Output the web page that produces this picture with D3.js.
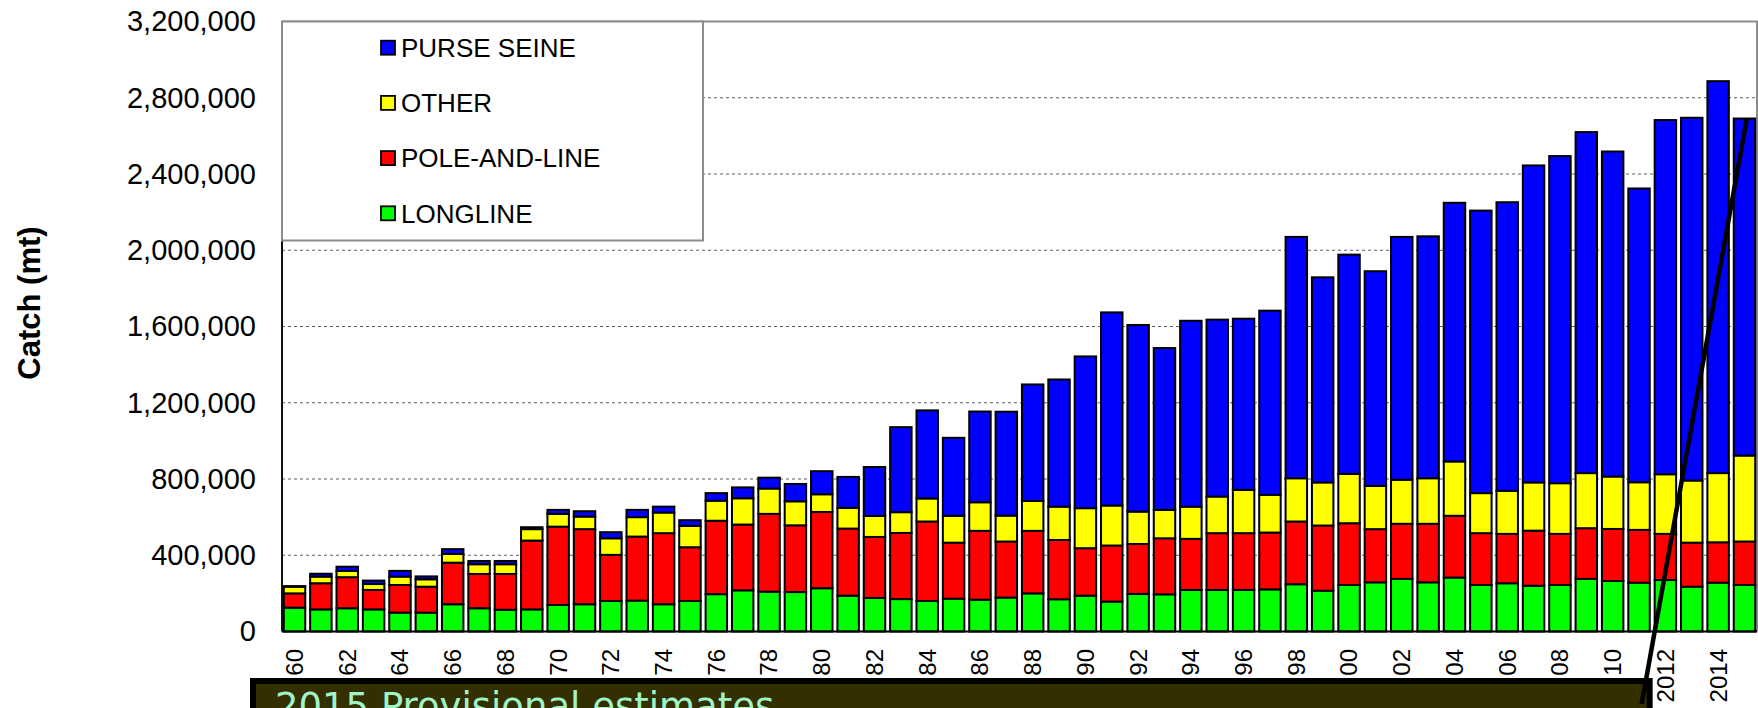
<!DOCTYPE html>
<html>
<head>
<meta charset="utf-8">
<script src="https://cdn.jsdelivr.net/npm/d3@7"></script>
<style>
  html, body { margin: 0; padding: 0; background: #ffffff; }
  svg { display: block; }
</style>
</head>
<body>
<svg id="chart" width="1758" height="708"></svg>
<script>
// ---------------- DATA ----------------
const years = ["1960","1961","1962","1963","1964","1965","1966","1967","1968","1969",
  "1970","1971","1972","1973","1974","1975","1976","1977","1978","1979",
  "1980","1981","1982","1983","1984","1985","1986","1987","1988","1989",
  "1990","1991","1992","1993","1994","1995","1996","1997","1998","1999",
  "2000","2001","2002","2003","2004","2005","2006","2007","2008","2009",
  "2010","2011","2012","2013","2014","2015"];

const longline = [125000,116000,122000,116000,99000,99000,143000,122000,114000,116000,
  139000,143000,160000,162000,143000,160000,196000,216000,209000,207000,
  227000,188000,176000,170000,160000,172000,167000,178000,200000,169000,
  188000,157000,197000,195000,218000,218000,218000,221000,248000,214000,
  244000,258000,276000,258000,283000,244000,253000,240000,244000,276000,
  265000,256000,270000,235000,256000,244000];

const poleAndLine = [75000,137000,163000,102000,145000,136000,218000,180000,188000,361000,
  411000,394000,242000,336000,373000,282000,385000,345000,408000,350000,
  400000,352000,320000,347000,417000,294000,361000,294000,328000,311000,
  249000,294000,262000,294000,268000,298000,298000,298000,329000,342000,
  324000,279000,289000,307000,324000,272000,259000,289000,268000,266000,
  273000,277000,242000,231000,212000,228000];

const other = [35000,35000,33000,31000,44000,39000,46000,51000,51000,60000,
  67000,66000,87000,102000,108000,112000,105000,138000,133000,126000,
  93000,109000,110000,109000,121000,141000,150000,136000,157000,175000,
  210000,210000,170000,149000,169000,192000,227000,198000,227000,226000,
  259000,227000,231000,239000,285000,210000,226000,253000,266000,289000,
  275000,250000,313000,326000,363000,451000];

const purseSeine = [3000,15000,22000,18000,30000,15000,25000,17000,17000,10000,
  21000,28000,32000,38000,31000,30000,40000,57000,57000,91000,
  121000,162000,257000,446000,462000,409000,476000,545000,611000,667000,
  796000,1013000,979000,849000,975000,928000,898000,966000,1266000,1076000,
  1150000,1126000,1274000,1269000,1357000,1482000,1514000,1663000,1716000,1789000,
  1705000,1541000,1858000,1903000,2056000,1768000];

const seriesNames = ["LONGLINE","POLE-AND-LINE","OTHER","PURSE SEINE"];
const seriesColors = ["#00ff00","#ff0000","#ffff00","#0000ff"];
const legendOrder = ["PURSE SEINE","OTHER","POLE-AND-LINE","LONGLINE"];

const yTickValues = [0,400000,800000,1200000,1600000,2000000,2400000,2800000,3200000];
const xTickYears = ["1960","1962","1964","1966","1968","1970","1972","1974","1976","1978",
  "1980","1982","1984","1986","1988","1990","1992","1994","1996","1998",
  "2000","2002","2004","2006","2008","2010","2012","2014"];
const xTickLabels = ["60","62","64","66","68","70","72","74","76","78",
  "80","82","84","86","88","90","92","94","96","98",
  "00","02","04","06","08","10","2012","2014"];

const yAxisTitle = "Catch (mt)";
const noteText = "2015 Provisional estimates";
const noteYear = "2015";

// ---------------- BUILD ----------------
const table = years.map((yr, i) => ({
  year: yr,
  "LONGLINE": longline[i],
  "POLE-AND-LINE": poleAndLine[i],
  "OTHER": other[i],
  "PURSE SEINE": purseSeine[i]
}));

const svg = d3.select("#chart");
const plot = { left: 282, right: 1757, top: 21.5, bottom: 631.5 };

const x = d3.scaleBand()
  .domain(years)
  .range([plot.left, plot.right])
  .paddingInner(0.11)
  .paddingOuter(0.03);

const y = d3.scaleLinear()
  .domain([0, 3200000])
  .range([plot.bottom, plot.top]);

const color = d3.scaleOrdinal().domain(seriesNames).range(seriesColors);

// gridlines
svg.append("g")
  .selectAll("line")
  .data(yTickValues.filter(v => v > 0 && v < 3200000))
  .join("line")
  .attr("x1", plot.left).attr("x2", plot.right)
  .attr("y1", d => y(d)).attr("y2", d => y(d))
  .attr("stroke", "#5e5e5e")
  .attr("stroke-width", 1)
  .attr("stroke-dasharray", "3,3");

// frame (top/right gray)
svg.append("path")
  .attr("d", `M${plot.left},${plot.top}H${plot.right}V${plot.bottom}`)
  .attr("fill", "none")
  .attr("stroke", "#8c8c8c")
  .attr("stroke-width", 2);

// stacked bars
const stacked = d3.stack().keys(seriesNames)(table);
const bw = x.bandwidth();
svg.append("g")
  .selectAll("g")
  .data(stacked)
  .join("g")
  .attr("fill", d => color(d.key))
  .selectAll("rect")
  .data(d => d)
  .join("rect")
  .attr("x", d => x(d.data.year) + 1)
  .attr("width", bw - 2)
  .attr("y", d => y(d[1]))
  .attr("height", d => Math.max(0, y(d[0]) - y(d[1])))
  .attr("stroke", "#000")
  .attr("stroke-width", 2);

// baseline
svg.append("line")
  .attr("x1", plot.left).attr("x2", plot.right)
  .attr("y1", y(0)).attr("y2", y(0))
  .attr("stroke", "#000").attr("stroke-width", 2);

// y axis
const yAxis = d3.axisLeft(y)
  .tickValues(yTickValues)
  .tickFormat(d3.format(","))
  .tickSize(0)
  .tickPadding(26);

const yg = svg.append("g")
  .attr("transform", `translate(${plot.left},0)`)
  .call(yAxis);
yg.select(".domain").remove();
yg.selectAll("text")
  .attr("font-family", "Liberation Sans, Arial, sans-serif")
  .attr("font-size", 29)
  .attr("fill", "#000");

svg.append("line")
  .attr("x1", plot.left).attr("x2", plot.left)
  .attr("y1", plot.top).attr("y2", plot.bottom)
  .attr("stroke", "#111").attr("stroke-width", 2);

// y axis title
svg.append("text")
  .attr("transform", `translate(29,303) rotate(-90)`)
  .attr("text-anchor", "middle")
  .attr("dy", "0.35em")
  .attr("font-family", "Liberation Sans, Arial, sans-serif")
  .attr("font-weight", "bold")
  .attr("font-size", 31)
  .attr("fill", "#000")
  .text(yAxisTitle);

// legend
const legend = svg.append("g");
legend.append("rect")
  .attr("x", plot.left).attr("y", plot.top)
  .attr("width", 421).attr("height", 219)
  .attr("fill", "#fff")
  .attr("stroke", "#8c8c8c")
  .attr("stroke-width", 2);

const legendY = d3.scalePoint().domain(legendOrder).range([47.7, 213.3]);
const li = legend.selectAll("g.item")
  .data(legendOrder)
  .join("g")
  .attr("class", "item")
  .attr("transform", d => `translate(0,${legendY(d)})`);
li.append("rect")
  .attr("x", 381).attr("y", -7)
  .attr("width", 14).attr("height", 14)
  .attr("fill", d => color(d))
  .attr("stroke", "#000").attr("stroke-width", 1.8);
li.append("text")
  .attr("x", 401).attr("y", 0)
  .attr("dy", "0.36em")
  .attr("font-family", "Liberation Sans, Arial, sans-serif")
  .attr("font-size", 26)
  .attr("fill", "#000")
  .text(d => d);

// note box
const boxRight = x(xTickYears[xTickYears.length - 2]) - 4;
svg.append("rect")
  .attr("x", 253).attr("y", 681)
  .attr("width", boxRight - 253).attr("height", 60)
  .attr("fill", "#332f00")
  .attr("stroke", "#000")
  .attr("stroke-width", 6);
svg.append("text")
  .attr("x", 275).attr("y", 719)
  .attr("font-family", "DejaVu Sans, Verdana, sans-serif")
  .attr("font-size", 37)
  .attr("fill", "#9ff5c8")
  .text(noteText);

// x tick labels
svg.append("g")
  .selectAll("text")
  .data(xTickYears)
  .join("text")
  .attr("transform", (d) => `translate(${x(d) + bw / 2},649) rotate(-90)`)
  .attr("text-anchor", "end")
  .attr("dy", "0.35em")
  .attr("font-family", "Liberation Sans, Arial, sans-serif")
  .attr("font-size", 24)
  .attr("fill", "#000")
  .text((d, i) => xTickLabels[i]);

// annotation line from note box to the 2015 bar top
const idx2015 = years.indexOf(noteYear);
const top2015 = longline[idx2015] + poleAndLine[idx2015] + other[idx2015] + purseSeine[idx2015];
svg.append("line")
  .attr("x1", boxRight - 8).attr("y1", 704)
  .attr("x2", x(noteYear) + bw * 0.6).attr("y2", y(top2015))
  .attr("stroke", "#000")
  .attr("stroke-width", 4.5);
</script>
</body>
</html>
